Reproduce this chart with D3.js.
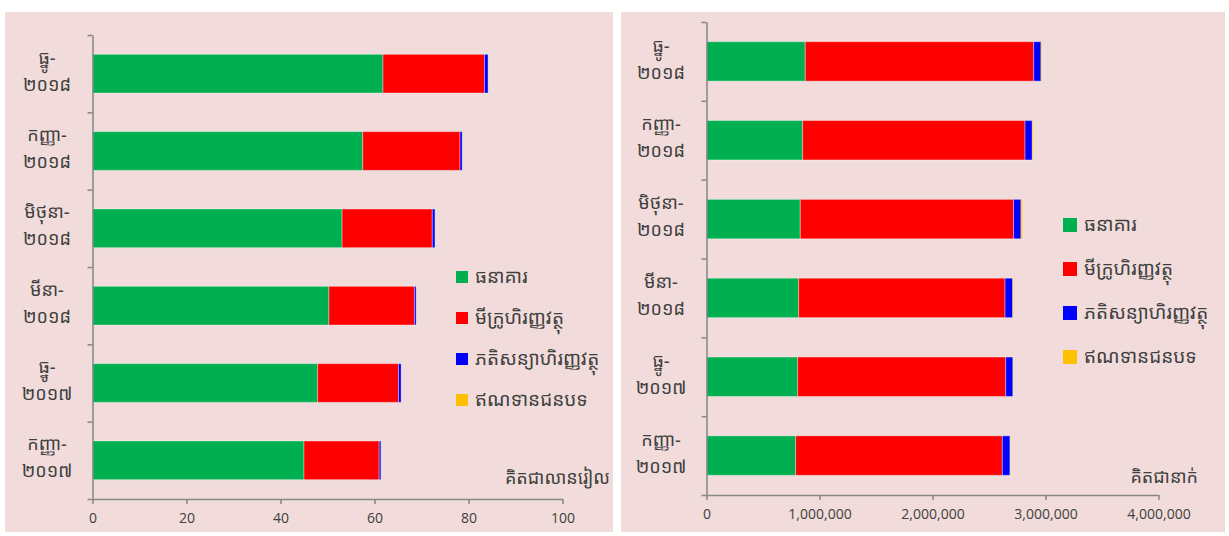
<!DOCTYPE html>
<html>
<head>
<meta charset="utf-8">
<script src="https://cdn.jsdelivr.net/npm/d3@7"></script>
<style>
  body { margin: 0; background: #fff; }
  svg { display: block; font-family: "Noto Sans Khmer", "Khmer OS", "Noto Sans", "DejaVu Sans", sans-serif; }
</style>
</head>
<body>
<svg id="chart" width="1229" height="536"></svg>
<script>
// categorias (de cima para baixo)
const categories = ["ធ្នូ-\n២០១៨", "កញ្ញា-\n២០១៨", "មិថុនា-\n២០១៨", "មីនា-\n២០១៨", "ធ្នូ-\n២០១៧", "កញ្ញា-\n២០១៧"];
const seriesNames = ["ធនាគារ", "មីក្រូហិរញ្ញវត្ថុ", "ភតិសន្យាហិរញ្ញវត្ថុ", "ឥណទានជនបទ"];
const seriesColors = ["#00b050", "#ff0000", "#0000ff", "#ffc000"];

// gráfico esquerdo: milhões de riel
const leftBank = [61.8, 57.5, 53.1, 50.3, 47.9, 45.0];
const leftMicro = [21.6, 20.7, 19.2, 18.2, 17.2, 16.0];
const leftLeasing = [0.8, 0.5, 0.6, 0.4, 0.6, 0.4];
const leftRural = [0.05, 0.05, 0.05, 0.05, 0.05, 0.05];
const leftTicks = [0, 20, 40, 60, 80, 100];
const leftUnit = "គិតជាលានរៀល";

// gráfico direito: pessoas
const rightBank = [874000, 851000, 830000, 816000, 807000, 789000];
const rightMicro = [2022000, 1968000, 1888000, 1826000, 1841000, 1829000];
const rightLeasing = [64000, 64000, 65000, 68000, 64000, 68000];
const rightRural = [9000, 9000, 15000, 6000, 3000, 6000];
const rightTicks = [0, 1000000, 2000000, 3000000, 4000000];
const rightUnit = "គិតជានាក់";

const svg = d3.select("#chart");
const axisColor = "#868686";
const textColor = "#404040";

function buildRows(a, b, c, d) {
    return categories.map((cat, i) => ({ cat, values: [a[i], b[i], c[i], d[i]] }));
}

function drawPanel(opt) {
    const g = svg.append("g");

    g.append("rect")
        .attr("x", opt.panel[0]).attr("y", opt.panel[1])
        .attr("width", opt.panel[2]).attr("height", opt.panel[3])
        .attr("fill", "#f2dcdb");

    const x = d3.scaleLinear().domain(opt.domain).range([opt.left, opt.right]);
    const y = d3.scaleBand().domain(categories)
        .range([opt.top, opt.bottom])
        .paddingInner(0.5).paddingOuter(0.25);
    const yEdge = d3.scaleLinear().domain([0, categories.length]).range([opt.top, opt.bottom]);

    // barras empilhadas
    const stack = d3.stack().keys([0, 1, 2, 3]).value((d, k) => d.values[k]);
    const layers = stack(opt.rows);

    g.selectAll(".layer")
        .data(layers)
        .join("g")
        .attr("fill", (d, i) => seriesColors[i])
        .selectAll("rect")
        .data(d => d)
        .join("rect")
        .attr("x", d => x(d[0]))
        .attr("y", d => y(d.data.cat))
        .attr("width", d => Math.max(0, x(d[1]) - x(d[0])))
        .attr("height", y.bandwidth())
        .attr("stroke", "#ffffff")
        .attr("stroke-opacity", 0.35)
        .attr("stroke-width", 1);

    // eixo Y (ticks nas fronteiras das categorias)
    const yAxis = g.append("g")
        .attr("transform", `translate(${opt.left},0)`)
        .call(d3.axisLeft(yEdge).tickValues(d3.range(0, categories.length + 1)).tickFormat("").tickSize(5).tickSizeOuter(0));
    yAxis.selectAll("line, path").attr("stroke", axisColor).attr("stroke-width", 1.5);

    // rótulos das categorias em duas linhas
    g.selectAll(".cat")
        .data(categories)
        .join("text")
        .attr("x", opt.labelX)
        .attr("y", d => y(d) + y.bandwidth() / 2)
        .attr("text-anchor", "middle")
        .attr("fill", textColor)
        .style("font-size", "18px")
        .each(function(d) {
            const parts = d.split("\n");
            d3.select(this).selectAll("tspan")
                .data(parts)
                .join("tspan")
                .attr("x", opt.labelX)
                .attr("dy", (p, i) => i === 0 ? "-0.55em" : "1.5em")
                .text(p => p);
        });

    // eixo X
    const xAxis = g.append("g")
        .attr("transform", `translate(0,${opt.bottom})`)
        .call(d3.axisBottom(x).tickValues(opt.ticks).tickFormat(opt.format).tickSize(5).tickSizeOuter(0).tickPadding(9));
    xAxis.selectAll("line, path").attr("stroke", axisColor).attr("stroke-width", 1.5);
    xAxis.selectAll("text")
        .attr("fill", textColor)
        .style("font-size", "14px")
        .style("font-family", "'Open Sans', 'Liberation Sans', sans-serif");

    // legenda
    const leg = g.selectAll(".leg")
        .data(seriesNames)
        .join("g")
        .attr("transform", (d, i) => `translate(${opt.legX},${opt.legY + i * opt.legStep})`);
    leg.append("rect")
        .attr("x", 0).attr("y", -opt.sw / 2)
        .attr("width", opt.sw).attr("height", opt.sw)
        .attr("fill", (d, i) => seriesColors[i]);
    leg.append("text")
        .attr("x", opt.sw + 7)
        .attr("y", 0)
        .attr("dy", "0.3em")
        .attr("fill", textColor)
        .style("font-size", "19px")
        .text(d => d);

    // unidade
    g.append("text")
        .attr("x", opt.unitX)
        .attr("y", opt.unitY)
        .attr("text-anchor", "end")
        .attr("fill", textColor)
        .style("font-size", "18px")
        .text(opt.unit);
}

drawPanel({
    panel: [5, 12, 608, 520],
    rows: buildRows(leftBank, leftMicro, leftLeasing, leftRural),
    domain: [0, 100], ticks: leftTicks, format: d3.format("d"),
    left: 92.5, right: 562.5, top: 35, bottom: 499,
    labelX: 47,
    legX: 456, legY: 277, legStep: 41, sw: 12,
    unit: leftUnit, unitX: 610, unitY: 484
});

drawPanel({
    panel: [621, 12, 604, 520],
    rows: buildRows(rightBank, rightMicro, rightLeasing, rightRural),
    domain: [0, 4000000], ticks: rightTicks, format: d3.format(","),
    left: 706.5, right: 1158.5, top: 22, bottom: 495,
    labelX: 661,
    legX: 1063, legY: 225, legStep: 44, sw: 14,
    unit: rightUnit, unitX: 1198, unitY: 483
});
</script>
</body>
</html>
